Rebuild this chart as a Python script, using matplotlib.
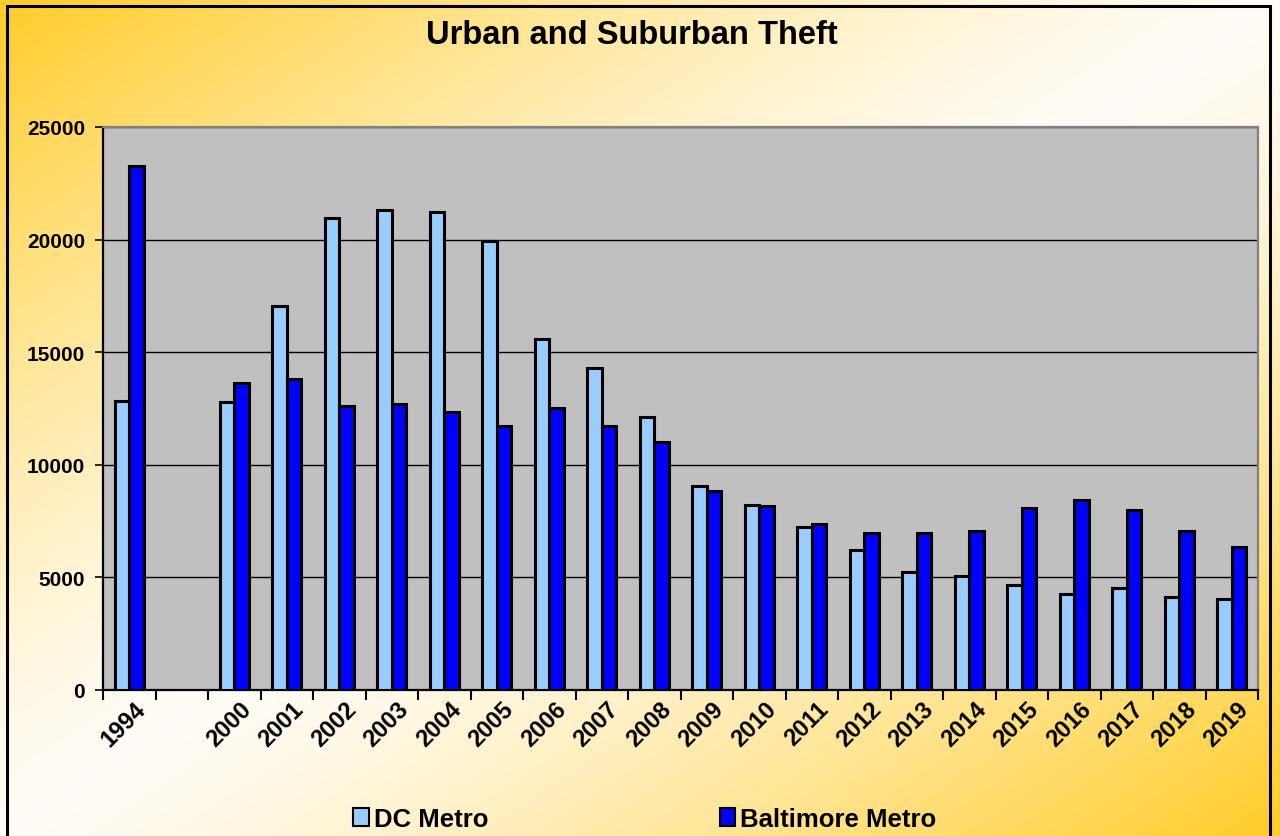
import numpy as np
import matplotlib
matplotlib.use("Agg")
import matplotlib.pyplot as plt
from matplotlib.patches import Patch

plt.rcParams['font.family'] = ['Liberation Sans', 'DejaVu Sans']

title = "Urban and Suburban Theft"
categories = ["1994", "", "2000", "2001", "2002", "2003", "2004", "2005", "2006",
              "2007", "2008", "2009", "2010", "2011", "2012", "2013", "2014",
              "2015", "2016", "2017", "2018", "2019"]
dc_metro = [12850, np.nan, 12800, 17050, 20950, 21300, 21230, 19930, 15590,
            14300, 12120, 9060, 8220, 7240, 6220, 5240, 5060,
            4660, 4260, 4530, 4130, 4040]
baltimore_metro = [23260, np.nan, 13620, 13800, 12610, 12700, 12350, 11720, 12520,
                   11720, 11010, 8840, 8170, 7370, 6970, 6970, 7060,
                   8080, 8440, 7990, 7060, 6350]
series_names = ["DC Metro", "Baltimore Metro"]
y_ticks = [0, 5000, 10000, 15000, 20000, 25000]

W, H = 1280, 837
fig = plt.figure(figsize=(W / 100, H / 100), dpi=100)

# background gradient (diagonal: gold corners top-left / bottom-right, white middle)
bg = fig.add_axes([0, 0, 1, 1], zorder=-10)
u = np.linspace(0, 1, 400)[None, :]
v = np.linspace(0, 1, 300)[:, None]
t = (u + v) / 2.0
f = np.clip(np.abs(t - 0.5) * 2, 0, 1) ** 1.3
gold = np.array([1.0, 0.80, 0.16])
white = np.array([1.0, 0.99, 0.97])
img = white[None, None, :] * (1 - f[..., None]) + gold[None, None, :] * f[..., None]
bg.imshow(img, aspect='auto', extent=[0, 1, 0, 1], origin='upper')
bg.set_xlim(0, 1)
bg.set_ylim(0, 1)
bg.axis('off')
# outer border (bottom edge cut off)
bx0, bx1 = 7 / W, 1270 / W
by1 = 1 - 7 / H
bg.plot([bx0, bx0, bx1, bx1], [-0.01, by1, by1, -0.01], color='black', lw=2.2,
        solid_joinstyle='miter')

ax = fig.add_axes([103 / W, 1 - 691 / H, (1258 - 103) / W, (691 - 128) / H])
ax.set_facecolor('#C0C0C0')

x = np.arange(len(categories))
w = 0.275
ax.bar(x - w / 2, dc_metro, width=w, color='#99CCFF', edgecolor='black',
       linewidth=2.2, zorder=3, label=series_names[0])
ax.bar(x + w / 2, baltimore_metro, width=w, color='#0000FF', edgecolor='black',
       linewidth=2.2, zorder=3, label=series_names[1])

ax.set_xlim(-0.5, len(categories) - 0.5)
ax.set_ylim(0, 25000)
ax.set_yticks(y_ticks)
ax.set_yticklabels([str(t) for t in y_ticks], fontsize=15, fontweight='bold')
ax.yaxis.grid(True, color='black', linewidth=1.0, zorder=1)
ax.set_axisbelow(True)
ax.tick_params(axis='y', length=6, width=1.2, pad=7)

ax.set_xticks(x)
ax.set_xticklabels(categories, rotation=45, ha='right', rotation_mode='anchor',
                   fontsize=17, fontweight='bold')
ax.tick_params(axis='x', which='major', length=0, pad=5)
ax.set_xticks(np.arange(-0.5, len(categories), 1.0), minor=True)
ax.tick_params(axis='x', which='minor', length=7, width=1.5)
for lbl in ax.get_xticklabels():
    lbl.set_transform(lbl.get_transform() +
                      matplotlib.transforms.ScaledTranslation(0.05, 0, fig.dpi_scale_trans))

for s in ['left', 'bottom']:
    ax.spines[s].set_color('black')
    ax.spines[s].set_linewidth(1.6)
for s in ['top', 'right']:
    ax.spines[s].set_color('#808080')
    ax.spines[s].set_linewidth(1.6)

fig.text(632 / W, 1 - 36 / H, title, ha='center', va='center', fontsize=23.5,
         fontweight='bold')

handles = [Patch(facecolor='#99CCFF', edgecolor='black', linewidth=1.5),
           Patch(facecolor='#0000FF', edgecolor='black', linewidth=1.5)]
leg = fig.legend(handles, series_names, loc='center', bbox_to_anchor=(645 / W, 1 - 820 / H),
                 ncol=2, frameon=False, handlelength=0.6, handleheight=0.7,
                 handletextpad=0.2, columnspacing=9.0,
                 prop={'weight': 'bold', 'size': 18.5})

fig.savefig("out.png", dpi=100)
